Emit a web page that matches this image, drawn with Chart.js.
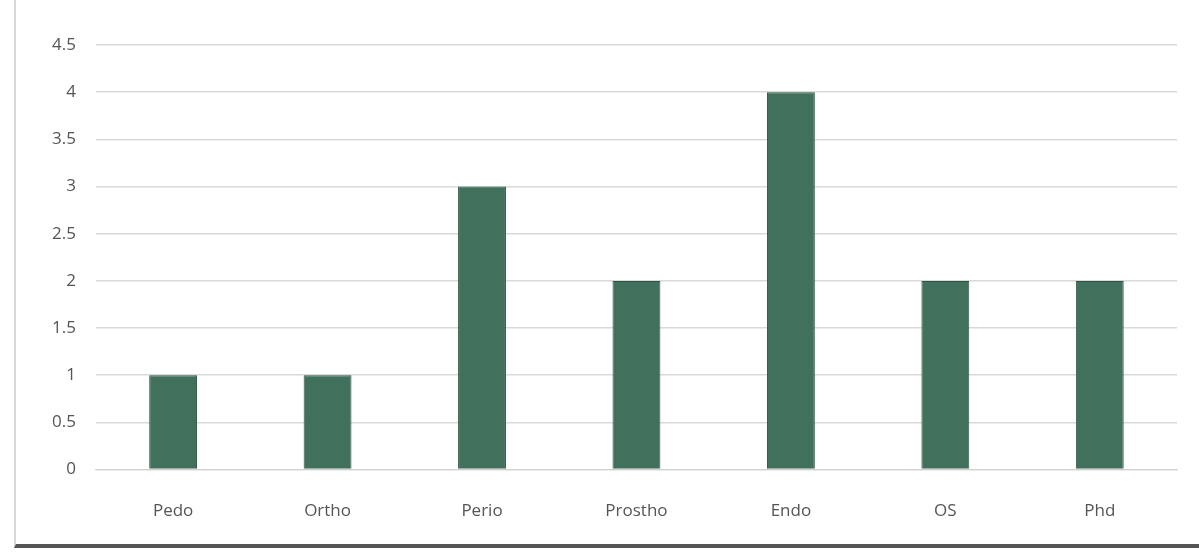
<!DOCTYPE html>
<html>
<head>
<meta charset="utf-8">
<script src="https://cdn.jsdelivr.net/npm/chart.js@4"></script>
<style>
    html, body { margin: 0; padding: 0; background: #fff; }
    #quadro {
        position: absolute; left: 14px; top: 0; width: 1185px; height: 548px;
        border-left: 2px solid #d8d8d8; border-bottom: 4px solid #555;
        box-sizing: border-box;
    }
    #grafico { position: absolute; left: 32px; top: 2px; }
</style>
</head>
<body>
<div id="quadro"></div>
<canvas id="grafico" width="1165" height="542"></canvas>
<script>
// Dados
const categorias = ['Pedo', 'Ortho', 'Perio', 'Prostho', 'Endo', 'OS', 'Phd'];
const valores = [1, 1, 3, 2, 4, 2, 2];
const ticksY = [0, 0.5, 1, 1.5, 2, 2.5, 3, 3.5, 4, 4.5];

const ctx = document.getElementById('grafico').getContext('2d');
new Chart(ctx, {
    type: 'bar',
    data: {
        labels: categorias,
        datasets: [{
            data: valores,
            backgroundColor: '#41705c',
            borderColor: '#2f5344',
            borderWidth: 1,
            barPercentage: 0.31,
            categoryPercentage: 1
        }]
    },
    options: {
        responsive: false,
        animation: false,
        layout: { padding: { left: 0, right: 20, top: 43, bottom: 0 } },
        plugins: { legend: { display: false }, tooltip: { enabled: false } },
        scales: {
            x: {
                grid: { display: false },
                border: { color: '#d0d0d0' },
                ticks: { color: '#555', font: { family: 'Open Sans', size: 17 }, padding: 23 }
            },
            y: {
                min: 0,
                max: 4.5,
                afterBuildTicks: function(eixo) {
                    eixo.ticks = ticksY.map(v => ({ value: v }));
                },
                grid: { color: '#d9d9d9', lineWidth: 1.5, drawTicks: false },
                border: { display: false },
                ticks: {
                    color: '#555',
                    font: { family: 'Open Sans', size: 17 },
                    padding: 20,
                    callback: function(v) { return String(v); }
                }
            }
        }
    }
});
</script>
</body>
</html>
